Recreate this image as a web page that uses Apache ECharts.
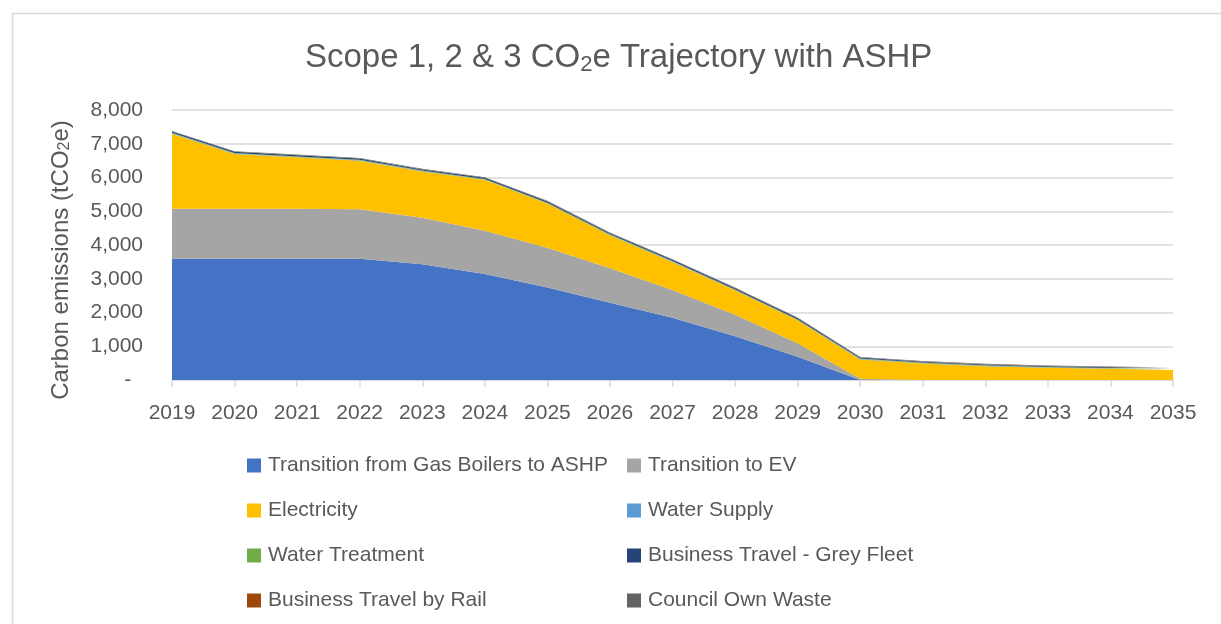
<!DOCTYPE html>
<html>
<head>
<meta charset="utf-8">
<script src="https://cdn.jsdelivr.net/npm/echarts@6/dist/echarts.min.js"></script>
<style>
html,body{margin:0;padding:0;background:#fff;}
#chart{width:1221px;height:624px;}
</style>
</head>
<body>
<div id="chart"></div>
<script>
var years = ['2019','2020','2021','2022','2023','2024','2025','2026','2027','2028','2029','2030','2031','2032','2033','2034','2035'];
var seriesNames = ['Transition from Gas Boilers to ASHP','Transition to EV','Electricity','Water Supply','Water Treatment','Business Travel - Grey Fleet','Business Travel by Rail','Council Own Waste'];
var ashp        = [3590,3590,3590,3590,3430,3140,2740,2290,1845,1300,690,0,0,0,0,0,0];
var ev          = [1485,1485,1485,1470,1380,1280,1180,1020,825,630,400,40,0,0,0,0,0];
var electricity = [2225,1625,1525,1440,1370,1510,1310,980,830,730,680,570,490,410,360,330,300];
var waterSupply = [10,10,10,10,10,10,10,10,10,10,10,10,10,10,10,10,10];
var waterTreat  = [15,15,15,15,15,15,15,15,15,15,15,15,15,15,15,15,15];
var greyFleet   = [35,35,35,35,35,35,35,35,35,35,35,30,25,25,25,25,25];
var rail        = [5,5,5,5,5,5,5,5,5,5,5,5,5,5,5,5,5];
var waste       = [15,15,15,15,15,15,15,15,15,15,15,15,15,15,15,15,15];
var colors = ['#4472C4','#A5A5A5','#FFC000','#5B9BD5','#70AD47','#264478','#9E480E','#636363'];
var yTicks = { 0:'-  ', 1000:'1,000', 2000:'2,000', 3000:'3,000', 4000:'4,000', 5000:'5,000', 6000:'6,000', 7000:'7,000', 8000:'8,000' };

var dataArrays = [ashp, ev, electricity, waterSupply, waterTreat, greyFleet, rail, waste];
var font = 'Liberation Sans';
var chart = echarts.init(document.getElementById('chart'));
var series = seriesNames.map(function(n, i){
  return {
    name: n, type: 'line', stack: 'total', data: dataArrays[i],
    showSymbol: false, symbol: 'none',
    lineStyle: { width: 0 },
    areaStyle: { color: colors[i], opacity: 1 },
    itemStyle: { color: colors[i] },
    emphasis: { disabled: true }
  };
});
var legendText = { color: '#595959', fontSize: 21, fontFamily: font, lineHeight: 21, padding: [0,0,0,2] };
chart.setOption({
  animation: false,
  color: colors,
  title: {
    text: 'Scope 1, 2 & 3 CO{sub|2}e Trajectory with ASHP',
    left: 300, top: 34,
    textStyle: {
      color: '#595959', fontSize: 33, fontWeight: 'normal', fontFamily: font,
      rich: { sub: { fontSize: 22, color: '#595959', fontFamily: font, verticalAlign: 'bottom', padding: [15,0,0,0] } }
    }
  },
  graphic: [{ type: 'rect', left: 10, top: 11, shape: { width: 1260, height: 700 }, style: { fill: 'none', stroke: '#d9d9d9', lineWidth: 1.5 }, silent: true }],
  grid: { left: 172, right: 48, top: 110, bottom: 244, containLabel: false },
  xAxis: {
    type: 'category', data: years, boundaryGap: false,
    axisLine: { lineStyle: { color: '#d9d9d9', width: 1.5 } },
    axisTick: { show: true, length: 7, lineStyle: { color: '#d9d9d9', width: 1.5 } },
    axisLabel: { color: '#595959', fontSize: 21, fontFamily: font, margin: 23 },
    splitLine: { show: false }
  },
  yAxis: {
    type: 'value', min: 0, max: 8000, interval: 1000,
    name: 'Carbon emissions (tCO{sub|2}e)', nameLocation: 'middle', nameGap: 99, nameRotate: 90,
    nameTextStyle: { color: '#595959', fontSize: 24, fontFamily: font, padding: [0, 30, 0, 0],
      rich: { sub: { fontSize: 16, color: '#595959', fontFamily: font, padding: [0,0,0,0], verticalAlign: 'bottom' } } },
    axisLine: { show: false }, axisTick: { show: false },
    axisLabel: { color: '#595959', fontSize: 21, fontFamily: font, margin: 29,
      formatter: function(v){ return yTicks[v] !== undefined ? yTicks[v] : ''; } },
    splitLine: { lineStyle: { color: '#d9d9d9', width: 1.5 } }
  },
  legend: [
    { data: [seriesNames[0], seriesNames[2], seriesNames[4], seriesNames[6]], orient: 'vertical', left: 242, top: 450,
      itemWidth: 14, itemHeight: 14, itemGap: 24, icon: 'rect', textStyle: legendText, selectedMode: false },
    { data: [seriesNames[1], seriesNames[3], seriesNames[5], seriesNames[7]], orient: 'vertical', left: 622, top: 450,
      itemWidth: 14, itemHeight: 14, itemGap: 24, icon: 'rect', textStyle: legendText, selectedMode: false }
  ],
  series: series
});
</script>
</body>
</html>
